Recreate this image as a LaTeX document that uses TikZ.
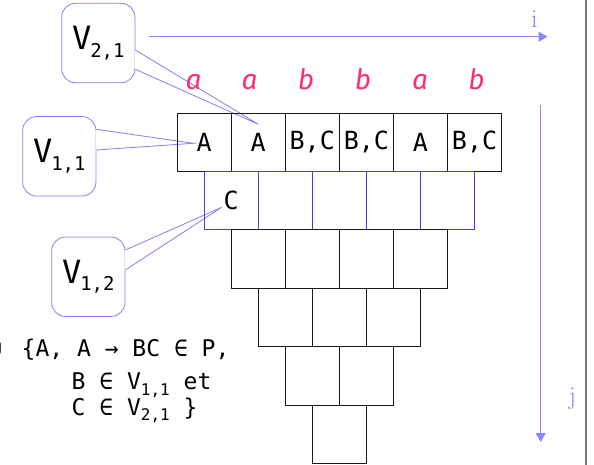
\documentclass[tikz,border=0pt]{standalone}
\usepackage{fontspec}
\newfontfamily\monofont{DejaVu Sans Mono}
\newfontfamily\firafont{Fira Sans}
\usetikzlibrary{arrows.meta,calc}
\definecolor{calloutblue}{RGB}{128,128,240}
\definecolor{axisblue}{RGB}{135,135,255}
\definecolor{rowblue}{RGB}{75,60,215}
\definecolor{letterpink}{RGB}{255,45,110}
\definecolor{framegray}{RGB}{120,120,120}
\newcommand{\cellfont}{\monofont\fontsize{25}{28}\selectfont}
\newcommand{\formfont}{\monofont\fontsize{23}{26}\selectfont}
\newcommand{\Vbig}[1]{V\kern-1pt\raisebox{-7.6pt}{\fontsize{19}{19}\selectfont #1}}
\newcommand{\Vsmall}[1]{V\raisebox{-5.7pt}{\fontsize{16}{16}\selectfont #1}}
\tikzset{
  cell/.style={draw=black!90, line width=0.9pt, minimum width=54.1pt, minimum height=58.4pt, inner sep=0pt, font=\cellfont},
  bluecell/.style={cell, draw=rowblue},
  callout/.style={draw=calloutblue, line width=0.8pt, rounded corners=14pt, minimum width=73.3pt, minimum height=79.5pt, inner sep=0pt, font=\monofont\fontsize{32}{34}\selectfont},
  wedge/.style={draw=calloutblue, line width=0.8pt},
  axis/.style={draw=axisblue, line width=1pt, -{Triangle[length=9pt,width=10pt]}},
  axislabel/.style={text=axisblue, font=\fontsize{26}{26}\selectfont, inner sep=0pt},
  letter/.style={text=letterpink, font=\firafont\itshape\fontsize{28}{28}\selectfont, anchor=base, inner sep=0pt},
  formula/.style={font=\formfont, anchor=base west, inner sep=0pt},
}
\begin{document}
\begin{tikzpicture}[x=1pt,y=-1pt]
\useasboundingbox (0,0) rectangle (594,464);
% frame line
\draw[framegray, line width=1.2pt] (586,-2) -- (586,466);

% callouts
\node[callout] (v21) at (98.3,43) {\Vbig{2,1}};
\node[callout] (v11) at (59.3,156.3) {\Vbig{1,1}};
\node[callout] (v12) at (88.3,276.7) {\Vbig{1,2}};
\coordinate (t21) at (258.3,124.3);
\coordinate (t11) at (193.3,143.3);
\coordinate (t12) at (221.7,207.3);
\coordinate (v21a) at (v21.east |- 0,50);
\coordinate (v21b) at (v21.east |- 0,69.3);
\coordinate (v11a) at (v11.east |- 0,129.3);
\coordinate (v11b) at (v11.east |- 0,150);
\coordinate (v12a) at (v12.east |- 0,250);
\coordinate (v12b) at (v12.east |- 0,270);
\foreach \v/\t in {v21/t21, v11/t11, v12/t12}{
  \fill[white] ([xshift=-0.7pt]\v a) -- (\t) -- ([xshift=-0.7pt]\v b) -- cycle;
  \draw[wedge] (\v a) -- (\t) -- (\v b);
}

% row 0
\foreach \c/\txt in {0/A, 1/A, 2/{B,C}, 3/{B,C}, 4/A, 5/{B,C}}{
  \node[cell] (c0\c) at ({204.05+54.1*\c},142.2) {\txt};
}
% row 1
\foreach \c/\txt in {0/C, 1/{}, 2/{}, 3/{}, 4/{}}{
  \node[bluecell] (c1\c) at ({231.1+54.1*\c},200.6) {\txt};
}
% rows 2-5
\foreach \r in {2,...,5}{
  \pgfmathtruncatemacro{\n}{5-\r}
  \foreach \c in {0,...,\n}{
    \node[cell] (c\r\c) at ({204.05+27.05*\r+54.1*\c},{142.2+58.4*\r}) {};
  }
}

% letters
\node[letter] (l0) at (193.5,89) {a};
\node[letter] (l1) at (249.5,89) {a};
\node[letter] (l2) at (306,89) {b};
\node[letter] (l3) at (363,89) {b};
\node[letter] (l4) at (420,89) {a};
\node[letter] (l5) at (476.5,89) {b};

% axes
\coordinate (i0) at (149,36.7);
\coordinate (i1) at (547.5,36.7);
\draw[axis] (i0) -- (i1);
\node[axislabel] (ilab) at (534.3,19) {i};
\coordinate (j0) at (540.7,105);
\coordinate (j1) at (540.7,442);
\draw[axis] (j0) -- (j1);
\node[axislabel] (jlab) at (572.5,399) {j};

% formula
\node[font=\formfont, anchor=base east, inner sep=0pt] (cup) at (3,356.7) {∪};
\node[formula] (f1) at (21.5,356.7) {\{A, A → BC ∈ P,};
\node[formula] (f2) at (71.5,389.3) {B ∈ \Vsmall{1,1} et};
\node[formula] (f3) at (71.5,415) {C ∈ \Vsmall{2,1} \}};
\end{tikzpicture}
\end{document}
